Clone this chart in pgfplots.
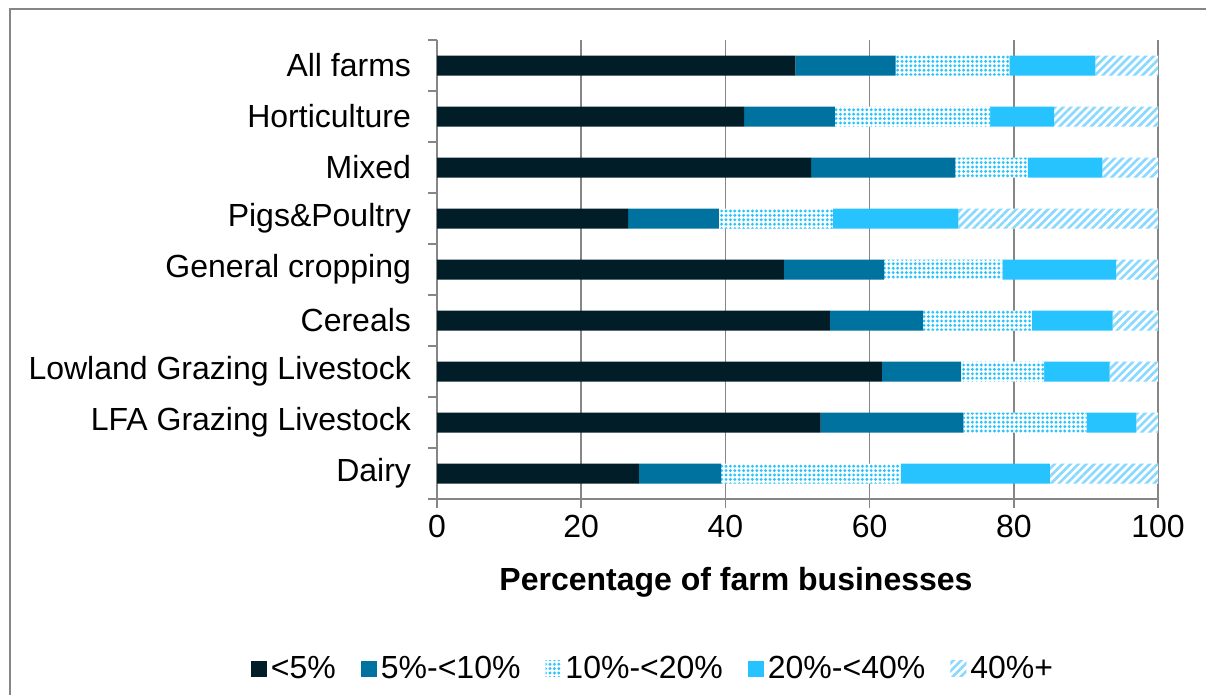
\documentclass[border=0pt]{standalone}
\usepackage{fontspec}
\setmainfont{Liberation Sans}
\usepackage{pgfplots}
\pgfplotsset{compat=1.18}
\usepackage{pgfplotstable}
\usetikzlibrary{patterns.meta}

\definecolor{cDark}{HTML}{001D28}
\definecolor{cMid}{HTML}{0072A0}
\definecolor{cLight}{HTML}{26C3FF}
\definecolor{cStripe}{HTML}{88D8FF}
\definecolor{cAxis}{HTML}{868686}

% share of farm businesses in each band, by farm type (pos 8 = top row)
\pgfplotstableread{
pos a    b    c    d    e
8   49.7 13.9 15.8 11.9 8.7
7   42.6 12.6 21.5 8.9  14.4
6   51.9 20.0 10.0 10.4 7.7
5   26.5 12.6 15.8 17.4 27.7
4   48.1 13.9 16.4 15.8 5.8
3   54.5 12.9 15.1 11.2 6.3
2   61.7 11.0 11.5 9.1  6.7
1   53.2 19.8 17.1 6.9  3.0
0   28.0 11.4 24.9 20.7 15.0
}\farms

\begin{document}
\begin{tikzpicture}[font=\fontsize{16bp}{19bp}\selectfont]
\useasboundingbox (0,0) rectangle (603bp,347.5bp);
\draw[cAxis, line width=1bp] (4.75bp,-20bp) -- (4.75bp,343bp) -- (640bp,343bp);
\begin{axis}[
  at={(218.5bp,98bp)}, anchor=south west,
  scale only axis, width=360.5bp, height=229.5bp,
  xbar stacked, bar width=10bp,
  xmin=0, xmax=100, ymin=-0.5, ymax=8.5,
  xtick={0,20,...,100},
  ytick={0,...,8},
  yticklabels={Dairy,LFA Grazing Livestock,Lowland Grazing Livestock,Cereals,General cropping,Pigs\&Poultry,Mixed,Horticulture,All farms},
  minor ytick={-0.5,0.5,...,8.5},
  axis x line*=bottom, axis y line*=left,
  axis line style={cAxis, line width=0.75bp},
  tick align=outside,
  major tick length=4.5bp, minor tick length=4.5bp,
  every tick/.style={cAxis, line width=0.75bp},
  every major y tick/.append style={draw=none},
  xmajorgrids,
  grid style={cAxis, line width=0.75bp},
  /pgf/number format/assume math mode=true,
  tick label style={font=\fontsize{16bp}{19bp}\selectfont},
  yticklabel style={xshift=-5bp},
  xlabel={\textbf{Percentage of farm businesses}},
  xlabel style={at={(axis description cs:0.4147,-0.1808)}, anchor=center, font=\fontsize{16bp}{19bp}\selectfont},
  legend style={at={(0.3010,-0.370)}, anchor=center, draw=none, legend columns=-1,
    font=\fontsize{16bp}{19bp}\selectfont,
    /tikz/every even column/.append style={column sep=10.5bp}},
  legend image code/.code={\draw[#1,draw=none] (0bp,-4bp) rectangle (8bp,4bp);},
]
\addplot[fill=cDark, draw=none] table[x=a, y=pos]{\farms};
\addplot[fill=cMid, draw=none] table[x=b, y=pos]{\farms};
\addplot[fill=white, draw=none, postaction={pattern color=cLight, pattern={Dots[distance=2.2bp, radius=0.8bp]}}] table[x=c, y=pos]{\farms};
\addplot[fill=cLight, draw=none] table[x=d, y=pos]{\farms};
\addplot[fill=white, draw=none, postaction={pattern color=cStripe, pattern={Lines[angle=45, distance=2.8bp, line width=1.3bp]}}] table[x=e, y=pos]{\farms};
\legend{<5\%, 5\%-<10\%, 10\%-<20\%, 20\%-<40\%, 40\%+}
\end{axis}
\end{tikzpicture}
\end{document}
